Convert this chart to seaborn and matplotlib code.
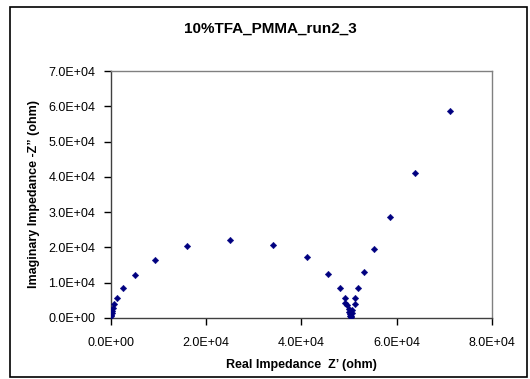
import matplotlib
matplotlib.use("Agg")
import matplotlib.pyplot as plt
from matplotlib.patches import Rectangle
import seaborn as sns
import pandas as pd

# Nyquist data: real and imaginary impedance (ohm)
z_real = [150, 200, 300, 380, 460, 800, 1430, 2560, 5075, 9270, 16040, 25000,
          34070, 41270, 45670, 48060, 49110, 49110, 49660, 49950, 50100, 50200,
          50300, 50350, 50500, 50600, 50700, 51200, 51330, 51960, 53220, 55250,
          58550, 63790, 71130]
z_imag = [500, 900, 1400, 2000, 2750, 3970, 5750, 8500, 12100, 16500, 20480, 22000,
          20760, 17370, 12550, 8500, 5750, 4330, 3680, 2600, 1800, 1100,
          500, 200, 700, 1400, 2200, 3970, 5580, 8500, 13120, 19460,
          28610, 41080, 58730]

x_ticks = [0, 20000, 40000, 60000, 80000]
y_ticks = [0, 10000, 20000, 30000, 40000, 50000, 60000, 70000]

df = pd.DataFrame({"real": z_real, "imag": z_imag})

sns.set_theme(style="white")
plt.rcParams["font.family"] = ["Liberation Sans", "DejaVu Sans"]

W, H = 530, 379
fig = plt.figure(figsize=(W / 100, H / 100), dpi=100)
ax = fig.add_axes([110.5 / W, 1 - 318 / H, (492 - 110.5) / W, (318 - 71) / H])

sns.scatterplot(data=df, x="real", y="imag", ax=ax, marker="D", s=11,
                color="#000080", edgecolor="#000080", linewidth=0.3, zorder=3)

ax.set_xlim(0, 80000)
ax.set_ylim(0, 70000)
ax.set_xticks(x_ticks)
ax.set_yticks(y_ticks)
ax.set_xticklabels([f"{v:.1E}" for v in x_ticks])
ax.set_yticklabels([f"{v:.1E}" for v in y_ticks])
ax.tick_params(axis="both", which="both", direction="out", length=5, width=1,
               color="black", labelsize=9, bottom=True, left=True,
               labelcolor="black")
ax.tick_params(axis="x", pad=9)
ax.tick_params(axis="y", pad=6)

for side in ["top", "right"]:
    ax.spines[side].set_color("#808080")
    ax.spines[side].set_linewidth(1)
for side in ["left", "bottom"]:
    ax.spines[side].set_color("#404040")
    ax.spines[side].set_linewidth(1)

ax.set_xlabel("Real Impedance  Z’ (ohm)", fontsize=9, fontweight="bold",
              color="black", labelpad=7)
ax.set_ylabel("Imaginary Impedance -Z” (ohm)", fontsize=9, fontweight="bold",
              color="black", labelpad=6)
fig.text(270 / W, 1 - 29 / H, "10%TFA_PMMA_run2_3", ha="center", va="center",
         fontsize=11, fontweight="bold", color="black")

# chart outer frame
fig.patches.append(Rectangle((10 / W, 1 - 377 / H), (527 - 10) / W, (377 - 7) / H,
                             transform=fig.transFigure, fill=False,
                             edgecolor="black", linewidth=1.2))

fig.savefig("out.png", dpi=100, facecolor="white")
